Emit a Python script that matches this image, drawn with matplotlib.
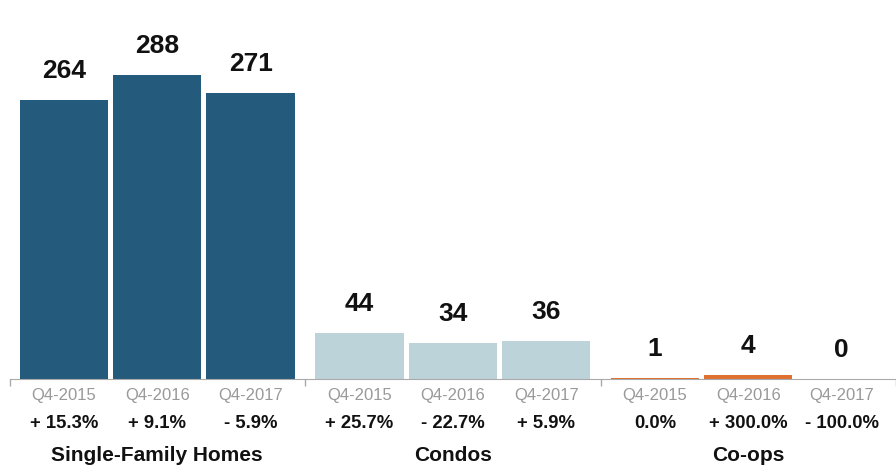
import matplotlib.pyplot as plt

plt.rcParams['font.family'] = ['Liberation Sans', 'DejaVu Sans']

groups = ["Single-Family Homes", "Condos", "Co-ops"]
quarters = ["Q4-2015", "Q4-2016", "Q4-2017"]
sales = [[264, 288, 271], [44, 34, 36], [1, 4, 0]]
changes = [["+ 15.3%", "+ 9.1%", "- 5.9%"],
           ["+ 25.7%", "- 22.7%", "+ 5.9%"],
           ["0.0%", "+ 300.0%", "- 100.0%"]]
colors = ["#245a7b", "#bcd3da", "#e07030"]

GROUP_PX = 297.4
fig = plt.figure(figsize=(8.96, 4.70), dpi=100)
# axes: x from ~9.5px to right edge, baseline at y=379px, top at 0
ax = fig.add_axes([9.5 / 896, 1 - 379 / 470, 886.5 / 896, 379 / 470])
ax.set_xlim(0, 886.5 / GROUP_PX)
ax.set_ylim(0, 379 / 1.0556)

step = 94 / GROUP_PX
width = 89 / GROUP_PX
for g, name in enumerate(groups):
    center = g + 0.5
    for i, q in enumerate(quarters):
        x = center + (i - 1) * step
        v = sales[g][i]
        ax.bar(x, v, width=width, color=colors[g], zorder=1)
        ax.text(x, v + 16, str(v), ha='center', va='bottom',
                fontsize=19, fontweight='bold', color='#111111')
        ax.text(x, -8.5, q, ha='center', va='top', fontsize=12,
                color='#999999', clip_on=False)
        ax.text(x, -34, changes[g][i], ha='center', va='top', fontsize=13.3,
                fontweight='bold', color='#111111', clip_on=False)
    ax.text(center, -63.5, name, ha='center', va='top', fontsize=15,
            fontweight='bold', color='#111111', clip_on=False)

for side in ['top', 'right', 'left']:
    ax.spines[side].set_visible(False)
ax.spines['bottom'].set_color('#aaaaaa')
ax.spines['bottom'].set_zorder(3)
ax.set_yticks([])
ax.set_xticks([0, 1, 2, 3])
ax.set_xticklabels([])
ax.tick_params(axis='x', length=5, color='#aaaaaa', width=1)

fig.savefig("out.png", dpi=100)
